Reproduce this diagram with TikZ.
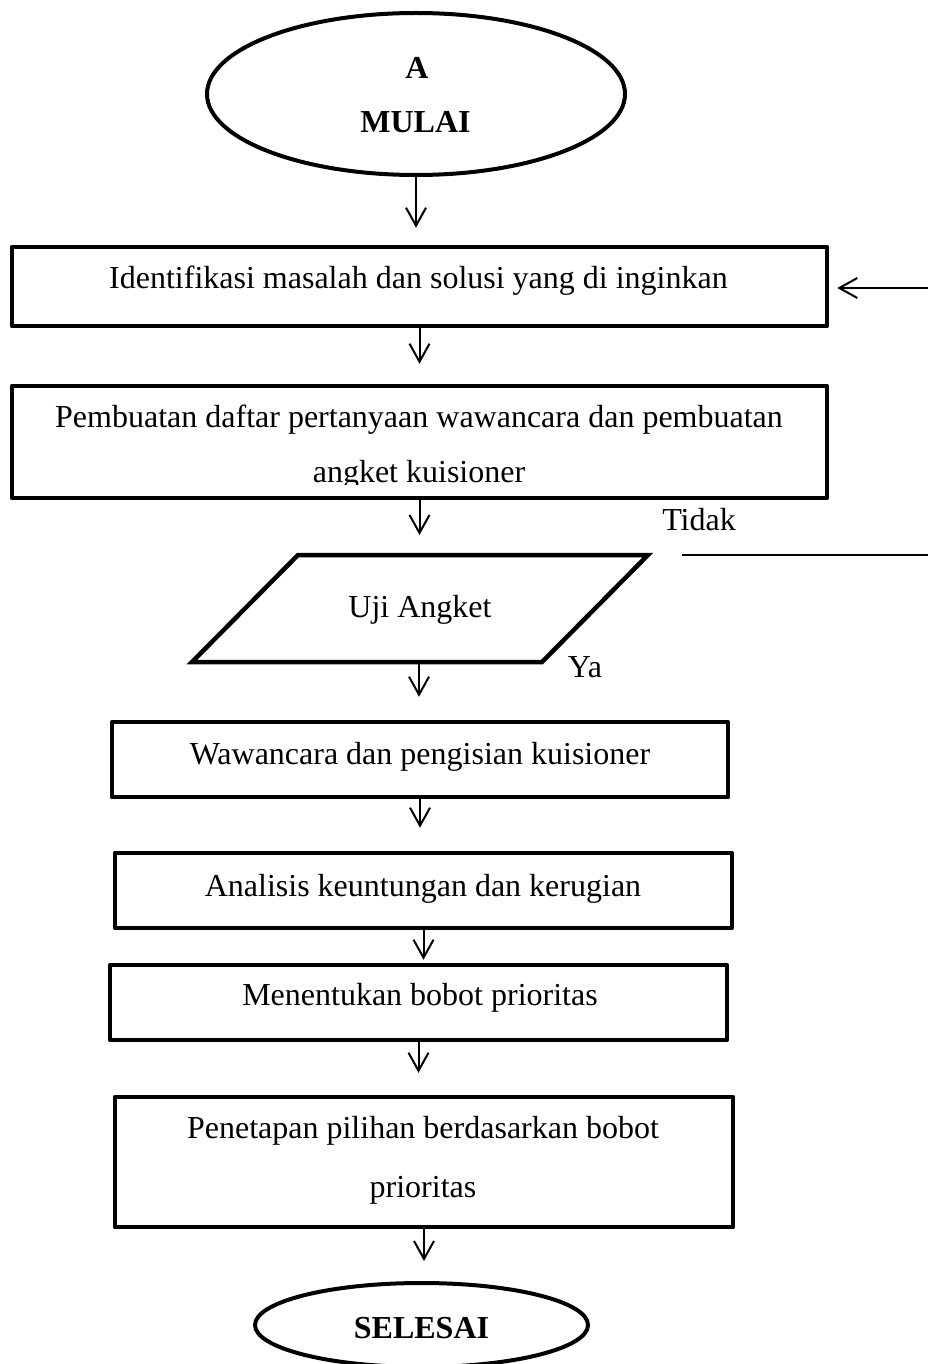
\documentclass[tikz,border=0pt]{standalone}
\usepackage{fontspec}
\setmainfont{Liberation Serif}[Ligatures=NoCommon]
\usetikzlibrary{arrows.meta,shapes.geometric}
\begin{document}
\begin{tikzpicture}[x=1pt,y=-1pt,
  box/.style={draw, line width=4.5pt, inner sep=0pt, line join=round},
  oval/.style={ellipse, draw, line width=4pt, inner sep=0pt},
  txt/.style={anchor=base, inner sep=0pt, font=\fontsize{32}{38}\selectfont},
  btxt/.style={anchor=base, inner sep=0pt, font=\fontsize{32}{38}\selectfont\bfseries},
  arr/.style={line width=2pt, -{Straight Barb[length=18pt,width=20pt]}},
  thinline/.style={line width=1.5pt}]
\useasboundingbox (0,0) rectangle (928,1364);

% start
\node[oval, minimum width=418pt, minimum height=162pt] (start) at (416,94) {};
\node[btxt] (tA) at (417,79) {A};
\node[btxt] (tMulai) at (415.5,133) {MULAI};

% box 1
\node[box, minimum width=815pt, minimum height=79pt] (b1) at (419.5,286.5) {};
\node[txt] (t1) at (418.5,288) {Identifikasi masalah dan solusi yang di inginkan};

% box 2
\node[box, minimum width=815pt, minimum height=112pt] (b2) at (419.5,442) {};
\node[txt] (t2a) at (419,427) {Pembuatan daftar pertanyaan wawancara dan pembuatan};
\begin{scope}
  \clip (0,390) rectangle (928,484);
  \node[txt] (t2b) at (419,482) {angket kuisioner};
\end{scope}

% parallelogram
\coordinate (p1) at (192,662);
\coordinate (p2) at (298,555);
\coordinate (p3) at (648,555);
\coordinate (p4) at (542,662);
\draw[line width=4.5pt] (p1) -- (p2) -- (p3) -- (p4) -- cycle;
\coordinate (ujitop) at (419,555);
\coordinate (ujibot) at (419,662);
\node[txt] (tuji) at (420,617) {Uji Angket};
\node[txt] (ttidak) at (699,530) {Tidak};
\node[txt] (tya) at (585,677) {Ya};

% feedback lines
\coordinate (tidakL) at (682,555);
\coordinate (tidakR) at (928,555);
\draw[thinline] (tidakL) -- (tidakR);
\coordinate (fbR) at (928,288);
\draw[arr, shorten >=8pt] (fbR) -- (b1.east |- fbR);

% box 3
\node[box, minimum width=616pt, minimum height=75pt] (b3) at (420,759.5) {};
\node[txt] (t3) at (420,764) {Wawancara dan pengisian kuisioner};

% box 4
\node[box, minimum width=617pt, minimum height=75pt] (b4) at (423.5,890.5) {};
\node[txt] (t4) at (423,896) {Analisis keuntungan dan kerugian};

% box 5
\node[box, minimum width=617pt, minimum height=75pt] (b5) at (418.5,1002.5) {};
\node[txt] (t5) at (420,1005) {Menentukan bobot prioritas};

% box 6
\node[box, minimum width=618pt, minimum height=130pt] (b6) at (424,1162) {};
\node[txt] (t6a) at (423,1138) {Penetapan pilihan berdasarkan bobot};
\node[txt] (t6b) at (423,1197) {prioritas};

% end
\node[oval, minimum width=333pt, minimum height=84pt] (end) at (421.5,1325) {};
\node[btxt] (tSelesai) at (421.5,1338) {SELESAI};

% arrows
\draw[arr, shorten >=17pt] (start.south) -- (start.south |- b1.north);
\draw[arr, shorten >=20pt] (b1.south) -- (b1.south |- b2.north);
\draw[arr, shorten >=20pt] (b2.south) -- (b2.south |- ujitop);
\draw[arr, shorten >=23pt] (ujibot) -- (ujibot |- b3.north);
\draw[arr, shorten >=23pt] (b3.south) -- (b3.south |- b4.north);
\draw[arr, shorten >=3pt] (b4.south) -- (b4.south |- b5.north);
\draw[arr, shorten >=22pt] (b5.south) -- (b5.south |- b6.north);
\draw[arr, shorten >=20pt] (b6.south) -- (b6.south |- end.north);
\end{tikzpicture}
\end{document}
